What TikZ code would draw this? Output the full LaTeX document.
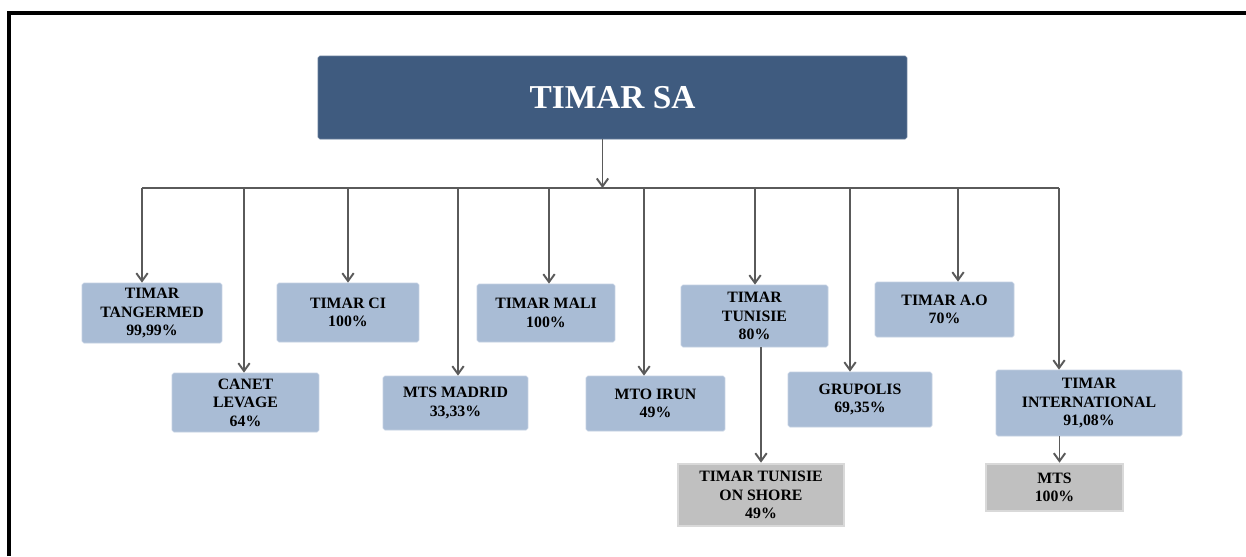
\documentclass[tikz,border=0pt]{standalone}
\usepackage{fontspec}
\setmainfont{Liberation Serif}
\usepackage{tikz}
\usetikzlibrary{arrows.meta,positioning,calc}

\definecolor{topblue}{HTML}{3F5B7F}
\definecolor{subblue}{HTML}{A9BCD5}
\definecolor{subgrey}{HTML}{C0C0C0}
\definecolor{lineg}{HTML}{5A5A5A}

\begin{document}
\begin{tikzpicture}[x=0.02cm,y=-0.02cm,
		topbox/.style={rectangle, rounded corners=1pt, fill=topblue, draw=topblue!80!white, text=white,
			font=\bfseries\fontsize{19}{22}\selectfont, inner sep=0pt},
		filiale/.style={rectangle, rounded corners=1pt, fill=subblue, draw=subblue!70!white, align=center,
			font=\bfseries\fontsize{9}{10.6}\selectfont, inner sep=0pt},
		sousfil/.style={rectangle, fill=subgrey, draw=gray!30, line width=1.5pt, align=center,
			font=\bfseries\fontsize{9}{10.6}\selectfont, inner sep=0pt},
		lien/.style={draw=lineg, line width=1.1pt},
		>={Straight Barb[length=4.5pt,width=6.5pt]}
		]
	
		\useasboundingbox (0,0) rectangle (1246,556);
		% cadre
		\draw[line width=1.8pt] (9,556) -- (9,13) -- (1246,13);
	
		% --- Société mère ---
		\node[topbox, minimum width=11.78cm, minimum height=1.66cm] (timar) at (612.5,97.5) {TIMAR SA};
	
		% --- Filiales ---
		\node[filiale, minimum width=2.8cm, minimum height=1.2cm] (tang) at (152,313) {TIMAR\\TANGERMED\\99,99\%};
		\node[filiale, minimum width=2.94cm, minimum height=1.18cm] (canet) at (245.5,402.5) {CANET\\LEVAGE\\64\%};
		\node[filiale, minimum width=2.84cm, minimum height=1.18cm] (ci) at (348,312.5) {TIMAR CI\\100\%};
		\node[filiale, minimum width=2.9cm, minimum height=1.08cm] (madrid) at (455.5,403) {MTS MADRID\\33,33\%};
		\node[filiale, minimum width=2.76cm, minimum height=1.16cm] (mali) at (546,313) {TIMAR MALI\\100\%};
		\node[filiale, minimum width=2.78cm, minimum height=1.1cm] (irun) at (655.5,403.5) {MTO IRUN\\49\%};
		\node[filiale, minimum width=2.94cm, minimum height=1.24cm] (tun) at (754.5,316) {TIMAR\\TUNISIE\\80\%};
		\node[filiale, minimum width=2.88cm, minimum height=1.1cm] (grup) at (860,399.5) {GRUPOLIS\\69,35\%};
		\node[filiale, minimum width=2.78cm, minimum height=1.1cm] (ao) at (944.5,309.5) {TIMAR A.O\\70\%};
		\node[filiale, minimum width=3.72cm, minimum height=1.32cm] (intl) at (1089,403) {TIMAR\\INTERNATIONAL\\91,08\%};
	
		% --- Sous-filiales ---
		\node[sousfil, minimum width=3.32cm, minimum height=1.24cm] (onshore) at (761,495) {TIMAR TUNISIE\\ON SHORE\\49\%};
		\node[sousfil, minimum width=2.74cm, minimum height=0.94cm] (mts) at (1054.5,487.5) {MTS\\100\%};
	
		% points sur le bus
		\coordinate (b1) at (142,188);
		\coordinate (b2) at (244,188);
		\coordinate (b3) at (348,188);
		\coordinate (b4) at (458,188);
		\coordinate (b5) at (549,188);
		\coordinate (b6) at (644,188);
		\coordinate (b7) at (755,188);
		\coordinate (b8) at (850,188);
		\coordinate (b9) at (958,188);
		\coordinate (b10) at (1059,188);
	
		% bus horizontal
		\draw[lien] (b1) -- (b10);
		\draw[lien, ->] ($(timar.south)+(-10,0)$) -- ($(timar.south |- b1)+(-10,0)$);
	
		% descentes
		\draw[lien, ->] (b1) -- (b1 |- tang.north);
		\draw[lien, ->] (b2) -- (b2 |- canet.north);
		\draw[lien, ->] (b3) -- (b3 |- ci.north);
		\draw[lien, ->] (b4) -- (b4 |- madrid.north);
		\draw[lien, ->] (b5) -- (b5 |- mali.north);
		\draw[lien, ->] (b6) -- (b6 |- irun.north);
		\draw[lien, ->] (b7) -- (b7 |- tun.north);
		\draw[lien, ->] (b8) -- (b8 |- grup.north);
		\draw[lien, ->] (b9) -- (b9 |- ao.north);
		\draw[lien, ->] (b10) -- (b10 |- intl.north);
	
		% sous-filiales
		\draw[lien, ->] (onshore.north |- tun.south) -- (onshore.north);
		\draw[lien, ->] ($(mts.north |- intl.south)+(5,0)$) -- ($(mts.north)+(5,0)$);
	
	\end{tikzpicture}
\end{document}
